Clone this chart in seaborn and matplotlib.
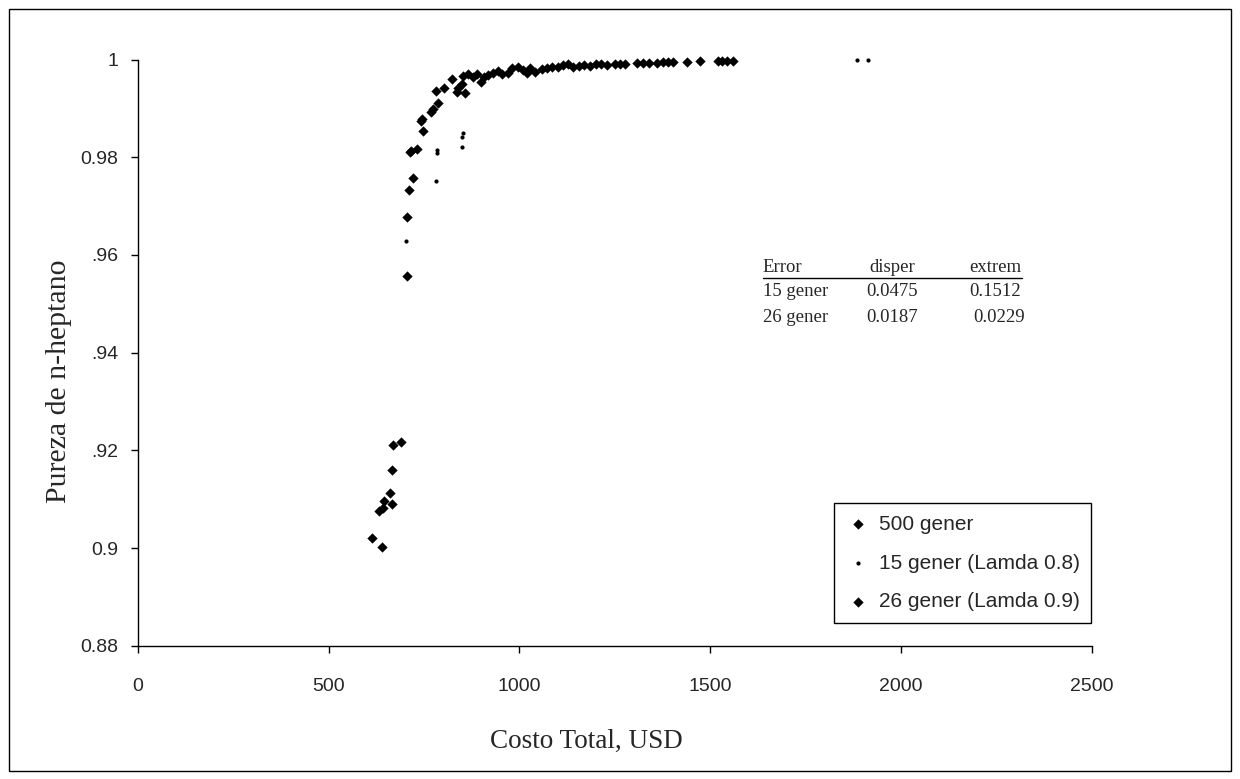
import matplotlib
matplotlib.use("Agg")
import matplotlib.pyplot as plt
import seaborn as sns
import pandas as pd
from matplotlib.patches import Rectangle
from matplotlib.lines import Line2D

# ---------------- data ----------------
x_500 = [613, 639, 642, 660, 666, 670, 691, 705, 706, 714, 722, 731, 742, 748,
         769, 775, 788, 781, 803, 824, 849, 853, 866, 888, 908, 919, 945, 971,
         997, 1028, 1058, 1085, 1115, 1141, 1170, 1200, 1230, 1264, 1309, 1340,
         1377, 1403, 1438, 1473, 1520, 1545]
y_500 = [0.9020, 0.9002, 0.9082, 0.9113, 0.9160, 0.9211, 0.9217, 0.9558, 0.9678,
         0.9811, 0.9758, 0.9816, 0.9874, 0.9854, 0.9893, 0.9898, 0.9911, 0.9936,
         0.9941, 0.9960, 0.9951, 0.9966, 0.9971, 0.9971, 0.9965, 0.9968, 0.9977,
         0.9972, 0.9985, 0.9982, 0.9980, 0.9985, 0.9989, 0.9985, 0.9988, 0.9990,
         0.9989, 0.9992, 0.9994, 0.9993, 0.9996, 0.9995, 0.9996, 0.9998, 0.9998,
         0.9998]

x_15 = [704, 781, 783, 783, 849, 853, 851, 1885, 1913]
y_15 = [0.9629, 0.9751, 0.9808, 0.9814, 0.9822, 0.9849, 0.9841, 1.0000, 1.0000]

x_26 = [633, 645, 666, 711, 716, 745, 836, 840, 858, 879, 900, 932, 954, 980,
        1010, 1019, 1041, 1072, 1102, 1128, 1155, 1185, 1215, 1250, 1277, 1325,
        1361, 1390, 1530, 1560]
y_26 = [0.9076, 0.9096, 0.9090, 0.9734, 0.9812, 0.9878, 0.9934, 0.9941, 0.9932,
        0.9964, 0.9955, 0.9973, 0.9971, 0.9982, 0.9979, 0.9973, 0.9975, 0.9982,
        0.9985, 0.9991, 0.9986, 0.9987, 0.9990, 0.9990, 0.9992, 0.9994, 0.9994,
        0.9995, 0.9998, 0.9998]

series_labels = ["500 gener", "15 gener (Lamda 0.8)", "26 gener (Lamda 0.9)"]

x_ticks = [0, 500, 1000, 1500, 2000, 2500]
x_tick_labels = ["0", "500", "1000", "1500", "2000", "2500"]
y_ticks = [0.88, 0.90, 0.92, 0.94, 0.96, 0.98, 1.00]
y_tick_labels = ["0.88", "0.9", ".92", ".94", ".96", "0.98", "1"]

table_header = ["Error", "disper", "extrem"]
table_rows = [["15 gener", "0.0475", "0.1512"],
              ["26 gener", "0.0187", "0.0229"]]

x_label = "Costo Total, USD"
y_label = "Pureza de n-heptano"

# ---------------- style ----------------
sns.set_style("white")
plt.rcParams["font.family"] = ["Liberation Sans", "DejaVu Sans"]
serif = ["Liberation Serif", "DejaVu Serif"]

fig = plt.figure(figsize=(12.4, 7.79), dpi=100)
ax = fig.add_axes([0.111, 0.171, 0.7696, 0.7525])

df500 = pd.DataFrame({"x": x_500, "y": y_500})
df15 = pd.DataFrame({"x": x_15, "y": y_15})
df26 = pd.DataFrame({"x": x_26, "y": y_26})

sns.scatterplot(data=df500, x="x", y="y", marker="D", s=24, color="black",
                linewidth=0.3, edgecolor="black", ax=ax, label=series_labels[0],
                clip_on=False, zorder=3)
sns.scatterplot(data=df15, x="x", y="y", marker="o", s=9, color="black",
                linewidth=0, ax=ax, label=series_labels[1], clip_on=False, zorder=3)
sns.scatterplot(data=df26, x="x", y="y", marker="D", s=24, color="black",
                linewidth=0.3, edgecolor="black", ax=ax, label=series_labels[2],
                clip_on=False, zorder=3)

ax.set_xlim(0, 2500)
ax.set_ylim(0.88, 1.0)
ax.set_xticks(x_ticks)
ax.set_xticklabels(x_tick_labels)
ax.set_yticks(y_ticks)
ax.set_yticklabels(y_tick_labels)

for s in ["top", "right"]:
    ax.spines[s].set_visible(False)
for s in ["left", "bottom"]:
    ax.spines[s].set_color("black")
    ax.spines[s].set_linewidth(1.0)

ax.tick_params(axis="x", direction="out", length=5, width=1, color="black",
               labelsize=14, pad=18, bottom=True)
ax.tick_params(axis="y", direction="out", length=5, width=1, color="black",
               labelsize=14, pad=9, left=True)

ax.set_xlabel(x_label, family=serif, fontsize=19.5)
ax.set_ylabel(y_label, family=serif, fontsize=21.5)
ax.xaxis.set_label_coords(0.47, -0.141)
ax.yaxis.set_label_coords(-0.069, 0.452)

# table of errors
col_x = [0.655, 0.764, 0.871]
fs_tab = 13.5
ax.text(col_x[0], 0.646, table_header[0], transform=ax.transAxes, family=serif,
        fontsize=fs_tab, va="center", ha="left")
ax.text(col_x[1] + 0.003, 0.646, table_header[1], transform=ax.transAxes, family=serif,
        fontsize=fs_tab, va="center", ha="left")
ax.text(col_x[2], 0.646, table_header[2], transform=ax.transAxes, family=serif,
        fontsize=fs_tab, va="center", ha="left")
ax.add_line(Line2D([0.655, 0.927], [0.628, 0.628], transform=ax.transAxes,
                   color="black", lw=1.0))
row_y = [0.604, 0.560]
for i, (ry, row) in enumerate(zip(row_y, table_rows)):
    ax.text(col_x[0], ry, row[0], transform=ax.transAxes, family=serif,
            fontsize=fs_tab, va="center", ha="left")
    ax.text(col_x[1], ry, row[1], transform=ax.transAxes, family=serif,
            fontsize=fs_tab, va="center", ha="left")
    dx = 0.0 if i == 0 else 0.005
    ax.text(col_x[2] + dx, ry, row[2], transform=ax.transAxes, family=serif,
            fontsize=fs_tab, va="center", ha="left")

leg = ax.legend(loc="lower right", bbox_to_anchor=(0.999, 0.039), frameon=True,
                fancybox=False, framealpha=1, edgecolor="black", fontsize=15,
                labelspacing=0.95, borderpad=0.55, handlelength=1.2,
                handletextpad=0.4, borderaxespad=0, markerscale=1.0)
leg.get_frame().set_linewidth(1.0)

fig.add_artist(Rectangle((0.0073, 0.0103), 0.9854, 0.978, transform=fig.transFigure,
                         fill=False, edgecolor="black", linewidth=1.0))

fig.savefig("out.png", dpi=100, facecolor="white")
